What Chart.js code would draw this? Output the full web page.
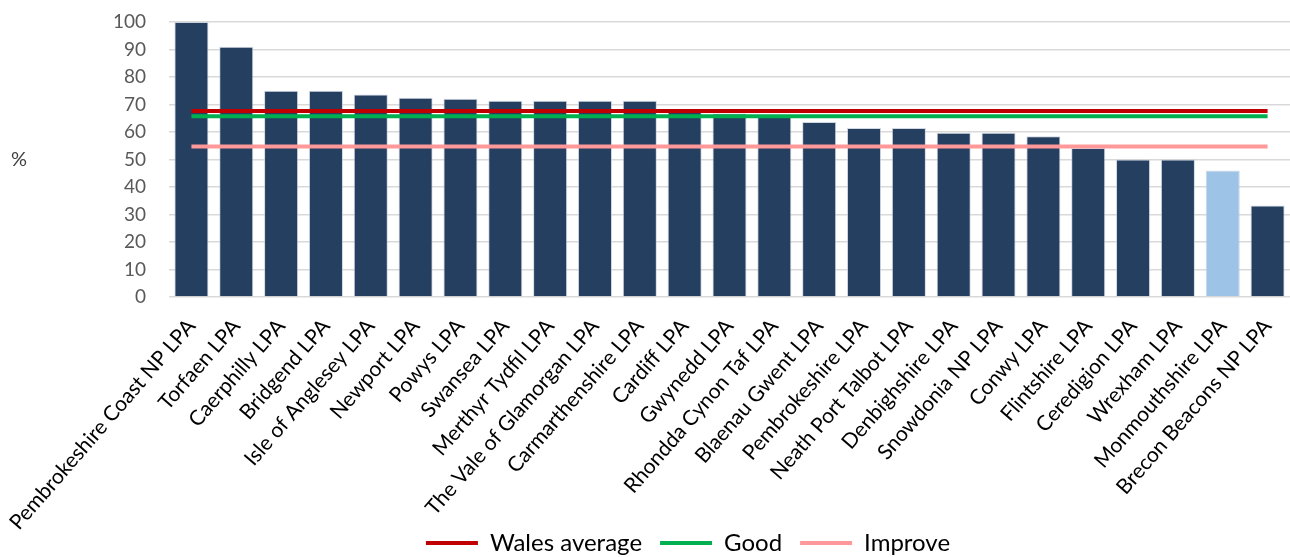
<!DOCTYPE html>
<html>
<head>
<meta charset="utf-8">
<title>Planning authorities – performance</title>
<script src="https://cdn.jsdelivr.net/npm/chart.js@4.4.1/dist/chart.umd.min.js"></script>
<style>
  html, body { margin: 0; padding: 0; background: #ffffff; }
  #wrap { width: 1290px; height: 557px; position: relative; }
</style>
</head>
<body>
<div id="wrap"><canvas id="chart"></canvas></div>
<script>
// Local planning authorities, highest score first
const authorities = [
  'Pembrokeshire Coast NP LPA', 'Torfaen LPA', 'Caerphilly LPA', 'Bridgend LPA',
  'Isle of Anglesey LPA', 'Newport LPA', 'Powys LPA', 'Swansea LPA',
  'Merthyr Tydfil LPA', 'The Vale of Glamorgan LPA', 'Carmarthenshire LPA',
  'Cardiff LPA', 'Gwynedd LPA', 'Rhondda Cynon Taf LPA', 'Blaenau Gwent LPA',
  'Pembrokeshire LPA', 'Neath Port Talbot LPA', 'Denbighshire LPA',
  'Snowdonia NP LPA', 'Conwy LPA', 'Flintshire LPA', 'Ceredigion LPA',
  'Wrexham LPA', 'Monmouthshire LPA', 'Brecon Beacons NP LPA'
];

// Percentage score for each authority
const scores = [
  100, 91, 75, 75,
  73.6, 72.5, 72.1, 71.4,
  71.4, 71.4, 71.4,
  68.2, 66.7, 66.2, 63.6,
  61.5, 61.5, 59.7,
  59.7, 58.5, 54.2, 50,
  50, 46, 33.3
];

// Reference levels (%)
const walesAverage = 67.6;
const goodLevel = 65.7;
const improveLevel = 54.7;

// Y axis ticks
const yTicks = [0, 10, 20, 30, 40, 50, 60, 70, 80, 90, 100];

// Authority shown in the lighter colour
const highlighted = 'Monmouthshire LPA';

const NAVY = '#243f60';
const LIGHT = '#9dc3e6';
const FONT = 'Lato, "Liberation Sans", sans-serif';

const level = v => authorities.map(() => v);

// Draws the "%" unit label beside the value axis
const unitLabel = {
  id: 'unitLabel',
  afterDraw(chart) {
    const { ctx, chartArea } = chart;
    ctx.save();
    ctx.font = '20px ' + FONT;
    ctx.fillStyle = '#404040';
    ctx.textAlign = 'left';
    ctx.textBaseline = 'middle';
    ctx.fillText('%', 11, (chartArea.top + chartArea.bottom) / 2);
    ctx.restore();
  }
};

// Tightens the legend box, nudges the legend row to the right and lets the
// slanted category labels run down beside the legend
const layoutTweak = {
  id: 'layoutTweak',
  beforeLayout(chart) {
    const lg = chart.legend;
    if (lg && !lg._tightFit) {
      const fit = lg.fit.bind(lg);
      lg.fit = function () { fit(); this.height -= 8; };
      lg._tightFit = true;
    }
  },
  afterLayout(chart) {
    const lg = chart.legend;
    if (lg) { lg.left += 43; lg.right += 43; }
    chart.scales.x.bottom = chart.height;
  }
};

new Chart(document.getElementById('chart'), {
  data: {
    labels: authorities,
    datasets: [
      {
        type: 'line', label: 'Wales average', data: level(walesAverage),
        borderColor: '#c00000', backgroundColor: '#c00000', borderWidth: 4,
        pointRadius: 0, fill: false, order: 0
      },
      {
        type: 'line', label: 'Good', data: level(goodLevel),
        borderColor: '#00b050', backgroundColor: '#00b050', borderWidth: 4,
        pointRadius: 0, fill: false, order: 0
      },
      {
        type: 'line', label: 'Improve', data: level(improveLevel),
        borderColor: '#ff9999', backgroundColor: '#ff9999', borderWidth: 4,
        pointRadius: 0, fill: false, order: 0
      },
      {
        type: 'bar', label: 'Score', data: scores,
        backgroundColor: authorities.map(a => a === highlighted ? LIGHT : NAVY),
        borderColor: 'rgba(190,200,215,0.7)', borderWidth: 1,
        barPercentage: 0.76, categoryPercentage: 1, order: 1
      }
    ]
  },
  options: {
    responsive: true,
    maintainAspectRatio: false,
    animation: false,
    layout: { padding: { top: 0, left: 0, right: 0, bottom: 0 } },
    plugins: {
      tooltip: { enabled: false },
      legend: {
        position: 'bottom',
        labels: {
          font: { family: FONT, size: 24 },
          color: '#000000',
          boxWidth: 52,
          boxHeight: 4,
          padding: 18,
          filter: item => item.text !== 'Score',
          generateLabels(chart) {
            return Chart.defaults.plugins.legend.labels.generateLabels(chart)
              .map(it => Object.assign(it, { lineWidth: 0 }));
          }
        }
      }
    },
    scales: {
      x: {
        afterFit(scale) {
          scale.height = 216;
          scale.paddingLeft = 0;
          scale.paddingRight = 0;
        },
        grid: { display: false },
        border: { display: false },
        ticks: {
          autoSkip: false, minRotation: 49, maxRotation: 49,
          font: { family: FONT, size: 21 }, color: '#000000', padding: 9
        }
      },
      y: {
        min: 0, max: 100,
        afterFit(scale) {
          scale.width = 169;
          scale.paddingTop = 22;
          scale.paddingBottom = 0;
        },
        afterBuildTicks(scale) { scale.ticks = yTicks.map(v => ({ value: v })); },
        grid: { color: '#d9d9d9', lineWidth: 1.5, drawTicks: false },
        border: { display: false },
        ticks: { font: { family: FONT, size: 19 }, color: '#595959', padding: 23 }
      }
    }
  },
  plugins: [unitLabel, layoutTweak]
});
</script>
</body>
</html>
